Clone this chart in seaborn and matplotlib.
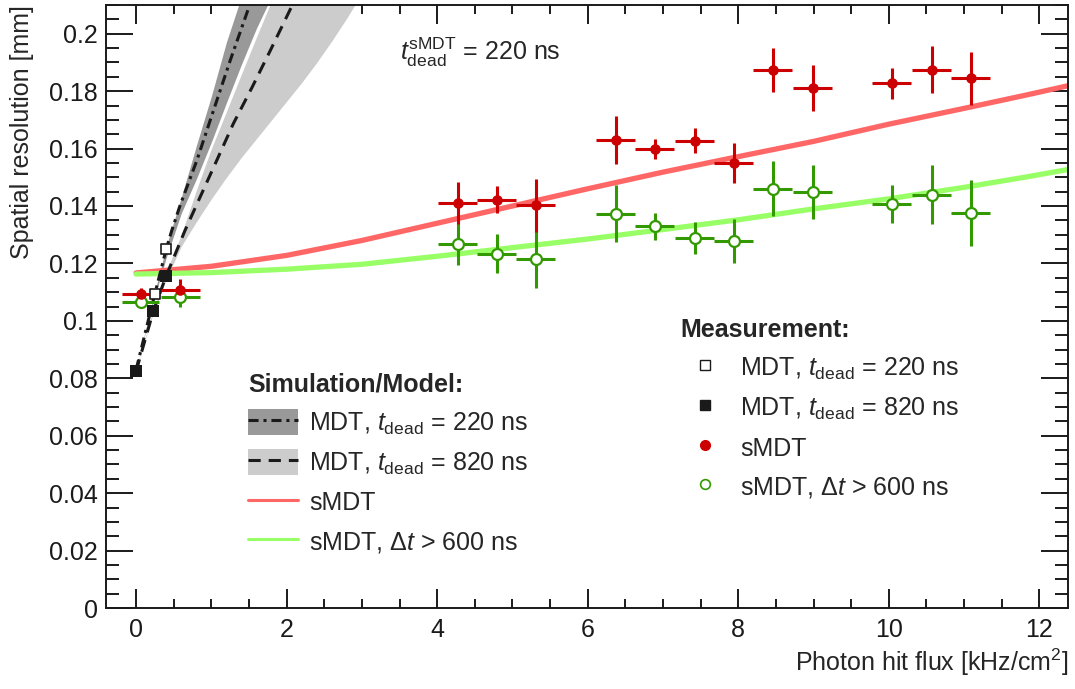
import numpy as np
import pandas as pd
import seaborn as sns
import matplotlib
matplotlib.use("Agg")
import matplotlib.pyplot as plt
from matplotlib.lines import Line2D
from matplotlib.patches import Patch
from matplotlib.ticker import MultipleLocator, FuncFormatter

# ---------------- data ----------------
# measured sMDT points
smdt_x = [0.06, 0.585, 4.27, 4.79, 5.31, 6.37, 6.89, 7.42, 7.94, 8.46, 8.99, 10.04, 10.57, 11.09]
smdt_xerr = [0.25, 0.26, 0.26, 0.26, 0.26, 0.26, 0.26, 0.26, 0.26, 0.26, 0.26, 0.26, 0.26, 0.26]
smdt_y = [0.1092, 0.1106, 0.1410, 0.1422, 0.1402, 0.1630, 0.1599, 0.1628, 0.1550, 0.1874, 0.1810, 0.1828, 0.1875, 0.1845]
smdt_yerr = [0.0022, 0.0040, 0.0072, 0.0047, 0.0093, 0.0082, 0.0036, 0.0045, 0.0069, 0.0077, 0.0080, 0.0054, 0.0083, 0.0092]
# measured sMDT with dt > 600 ns
smdt600_y = [0.1065, 0.1083, 0.1269, 0.1234, 0.1216, 0.1373, 0.1330, 0.1289, 0.1277, 0.1460, 0.1450, 0.1408, 0.1440, 0.1376]
smdt600_yerr = [0.0018, 0.0035, 0.0073, 0.0068, 0.0100, 0.0100, 0.0047, 0.0055, 0.0077, 0.0096, 0.0094, 0.0066, 0.0102, 0.0114]
# measured MDT points
mdt220_x = [0.245, 0.40]
mdt220_y = [0.1092, 0.1249]
mdt820_x = [0.0, 0.23, 0.40]
mdt820_y = [0.0825, 0.1034, 0.1157]

# simulation curves
sim_smdt_x = [0, 1, 2, 3, 4, 5, 6, 7, 8, 9, 10, 11, 11.8, 12.4]
sim_smdt_y = [0.1167, 0.1190, 0.1228, 0.1280, 0.1340, 0.1400, 0.1460, 0.1518, 0.1572, 0.1625, 0.1685, 0.1740, 0.1785, 0.1820]
sim_smdt600_y = [0.1163, 0.1168, 0.1180, 0.1197, 0.1225, 0.1255, 0.1285, 0.1318, 0.1352, 0.1390, 0.1425, 0.1465, 0.1500, 0.1528]

# MDT models
mod220_x = [0.0, 0.245, 0.40, 0.474, 0.584, 0.806, 1.027, 1.249, 1.49, 1.60]
mod220_y = [0.083, 0.109, 0.125, 0.1315, 0.1402, 0.1558, 0.1732, 0.1906, 0.2086, 0.217]
mod820_x = [0.0, 0.23, 0.40, 0.65, 0.85, 1.07, 1.29, 1.54, 1.78, 2.05, 2.20]
mod820_y = [0.0825, 0.1035, 0.1157, 0.1315, 0.1431, 0.1558, 0.1686, 0.1813, 0.1940, 0.2086, 0.2165]

band220_x = [0.0, 0.2, 0.4, 0.6, 0.8, 1.0, 1.2, 1.4, 1.6, 1.8]
band220_lo = [0.083, 0.104, 0.122, 0.1375, 0.1494, 0.1623, 0.1760, 0.1894, 0.2020, 0.2130]
band220_hi = [0.083, 0.105, 0.126, 0.1430, 0.1610, 0.1783, 0.1971, 0.2130, 0.2250, 0.2350]

band820_x = [0.0, 0.2, 0.4, 0.6, 0.8, 1.0, 1.2, 1.4, 1.6, 1.8, 2.0, 2.2, 2.4, 2.6, 2.8, 3.0]
band820_lo = [0.0825, 0.1005, 0.1145, 0.1260, 0.1345, 0.1425, 0.1500, 0.1570, 0.1635, 0.1700, 0.1765, 0.1830, 0.1900, 0.1975, 0.2055, 0.2140]
band820_hi = [0.0825, 0.1015, 0.1170, 0.1300, 0.1455, 0.1600, 0.1729, 0.1860, 0.1989, 0.2115, 0.2230, 0.2330, 0.2430, 0.2530, 0.2630, 0.2730]

x_ticks = [0, 2, 4, 6, 8, 10, 12]

# ---------------- style ----------------
sns.set_theme(style="ticks")
plt.rcParams['font.family'] = ['Liberation Sans', 'DejaVu Sans']
plt.rcParams['mathtext.fontset'] = 'custom'
plt.rcParams['mathtext.rm'] = 'Liberation Sans'
plt.rcParams['mathtext.it'] = 'Liberation Sans:italic'
plt.rcParams['mathtext.bf'] = 'Liberation Sans:bold'

RED = '#cc0000'
GREEN = '#339900'
LRED = '#ff6666'
LGREEN = '#99ff66'
DGRAY = '#999999'
LGRAY = '#cccccc'
FS = 18

fig = plt.figure(figsize=(10.75, 6.89), dpi=100)
ax = fig.add_axes([106/1075, (689-608)/689, 962/1075, 603/689])

# bands
ax.fill_between(band820_x, band820_lo, band820_hi, color=LGRAY, lw=0, zorder=1)
ax.fill_between(band220_x, band220_lo, band220_hi, color=DGRAY, lw=0, zorder=1)

# simulation curves
sns.lineplot(x=sim_smdt_x, y=sim_smdt_y, ax=ax, color=LRED, lw=3.8, zorder=2)
sns.lineplot(x=sim_smdt_x, y=sim_smdt600_y, ax=ax, color=LGREEN, lw=3.8, zorder=2)
sns.lineplot(x=mod220_x, y=mod220_y, ax=ax, color='k', lw=2.2, zorder=3,
             linestyle=(0, (3.3, 1.6, 1.0, 1.6)))
sns.lineplot(x=mod820_x, y=mod820_y, ax=ax, color='k', lw=2.2, zorder=3,
             linestyle=(0, (4.0, 2.6)))

# measurements
ax.errorbar(smdt_x, smdt600_y, xerr=smdt_xerr, yerr=smdt600_yerr, fmt='none',
            ecolor=GREEN, elinewidth=2.2, capsize=0, zorder=4)
ax.errorbar(smdt_x, smdt_y, xerr=smdt_xerr, yerr=smdt_yerr, fmt='none',
            ecolor=RED, elinewidth=2.2, capsize=0, zorder=4)
sns.scatterplot(x=smdt_x, y=smdt600_y, ax=ax, marker='o', s=62, color='white',
                edgecolor=GREEN, linewidth=1.6, zorder=6, legend=False)
sns.scatterplot(x=smdt_x, y=smdt_y, ax=ax, marker='o', s=58, color=RED,
                edgecolor=RED, linewidth=0, zorder=6, legend=False)
sns.scatterplot(x=mdt220_x, y=mdt220_y, ax=ax, marker='s', s=62, color='white',
                edgecolor='k', linewidth=1.2, zorder=7, legend=False)
sns.scatterplot(x=mdt820_x, y=mdt820_y, ax=ax, marker='s', s=70, color='k',
                edgecolor='k', linewidth=0, zorder=7, legend=False)

# axes
ax.set_xlim(-0.4, 12.38)
ax.set_ylim(0, 0.21)
ax.set_xticks(x_ticks)
ax.xaxis.set_minor_locator(MultipleLocator(0.5))
ax.yaxis.set_major_locator(MultipleLocator(0.02))
ax.yaxis.set_minor_locator(MultipleLocator(0.005))
ax.yaxis.set_major_formatter(FuncFormatter(lambda v, p: '%g' % round(v, 4)))
ax.tick_params(which='both', direction='in', top=True, right=True, colors='k',
               labelsize=FS)
ax.tick_params(axis='x', which='major', length=13.7, width=1.4, pad=7)
ax.tick_params(axis='x', which='minor', length=6.8, width=1.4)
ax.tick_params(axis='y', which='major', length=19.4, width=1.4, pad=6)
ax.tick_params(axis='y', which='minor', length=9.4, width=1.4)
for sp in ax.spines.values():
    sp.set_linewidth(1.4)
    sp.set_color('k')

ax.set_xlabel('Photon hit flux [kHz/cm$^2$]', fontsize=FS, loc='right')
ax.set_ylabel('Spatial resolution [mm]', fontsize=FS, loc='top')
ax.xaxis.set_label_coords(1.0, -0.064)
ax.yaxis.set_label_coords(-0.075, 1.0)
ax.xaxis.label.set_va('top')

ax.text(0.3056, 0.922, r'$t^{\mathrm{sMDT}}_{\mathrm{dead}}$ = 220 ns',
        transform=ax.transAxes, fontsize=FS, va='center', ha='left')

# legends
sim_handles = [
    (Patch(facecolor=DGRAY, edgecolor='none'),
     Line2D([], [], color='k', lw=2.2, linestyle=(0, (3.3, 1.6, 1.0, 1.6)))),
    (Patch(facecolor=LGRAY, edgecolor='none'),
     Line2D([], [], color='k', lw=2.2, linestyle=(0, (4.0, 2.6)))),
    Line2D([], [], color=LRED, lw=2.2),
    Line2D([], [], color=LGREEN, lw=2.2),
]
sim_labels = [r'MDT, $t_{\mathrm{dead}}$ = 220 ns', r'MDT, $t_{\mathrm{dead}}$ = 820 ns',
              'sMDT', r'sMDT, $\Delta t$ > 600 ns']
leg1 = ax.legend(sim_handles, sim_labels, title='Simulation/Model:', loc='upper left',
                 bbox_to_anchor=(0.1476, 0.39), bbox_transform=ax.transAxes,
                 frameon=False, fontsize=FS, title_fontproperties={'weight': 'bold', 'size': FS},
                 alignment='left', handlelength=2.0, handleheight=1.2, handletextpad=0.45,
                 labelspacing=0.5, borderpad=0, borderaxespad=0)
ax.add_artist(leg1)

meas_handles = [
    Line2D([], [], ls='none', marker='s', markersize=7.5, markerfacecolor='white',
           markeredgecolor='k', markeredgewidth=1.0),
    Line2D([], [], ls='none', marker='s', markersize=7.5, color='k'),
    Line2D([], [], ls='none', marker='o', markersize=7, color=RED),
    Line2D([], [], ls='none', marker='o', markersize=7, markerfacecolor='white',
           markeredgecolor=GREEN, markeredgewidth=1.2),
]
meas_labels = [r'MDT, $t_{\mathrm{dead}}$ = 220 ns', r'MDT, $t_{\mathrm{dead}}$ = 820 ns',
               'sMDT', r'sMDT, $\Delta t$ > 600 ns']
leg2 = ax.legend(meas_handles, meas_labels, title='Measurement:', loc='upper left',
                 bbox_to_anchor=(0.597, 0.481), bbox_transform=ax.transAxes,
                 frameon=False, fontsize=FS, title_fontproperties={'weight': 'bold', 'size': FS},
                 alignment='left', handlelength=2.0, handleheight=1.2, handletextpad=0.4,
                 labelspacing=0.5, borderpad=0, borderaxespad=0)

fig.savefig('out.png', dpi=100)
